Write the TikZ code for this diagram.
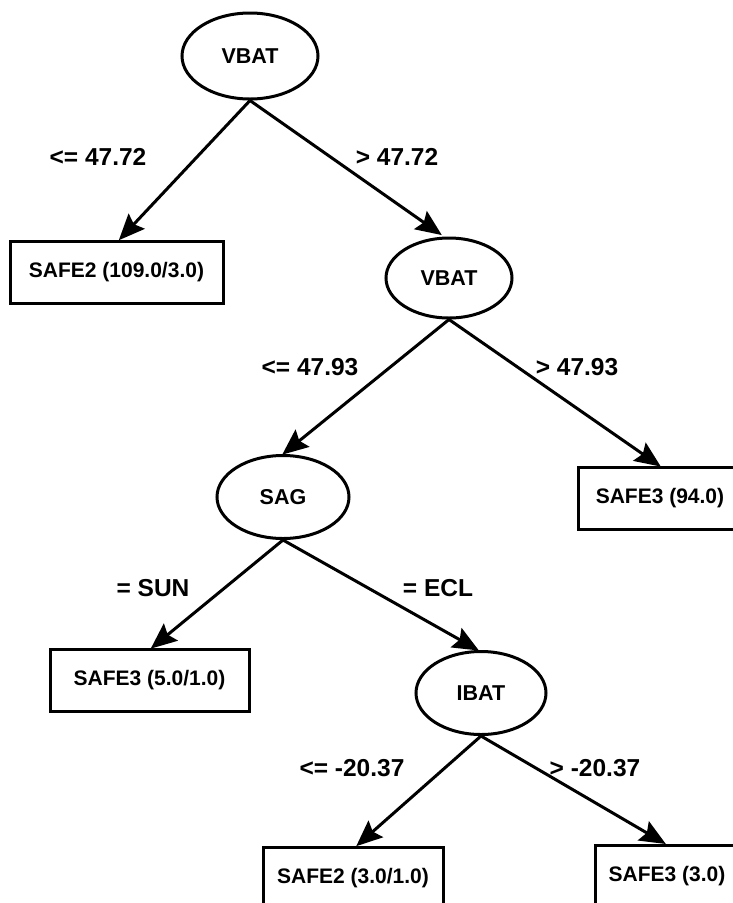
\documentclass[tikz,border=0pt]{standalone}
\usepackage{fontspec}
\setmainfont{Liberation Sans}
\usetikzlibrary{shapes.geometric,arrows.meta}
\tikzset{
  oval/.style={ellipse, draw, line width=3pt, inner sep=0pt, font=\fontsize{21.5}{24}\selectfont\bfseries},
  leaf/.style={rectangle, draw, line width=3pt, inner sep=0pt, minimum height=62pt, font=\fontsize{21}{24}\selectfont\bfseries},
  lbl/.style={inner sep=0pt, font=\fontsize{24.5}{28}\selectfont\bfseries},
  edge/.style={line width=3pt, -{Stealth[length=26pt,width=22pt,inset=4pt]}, shorten >=-1pt}
}
\begin{document}
\begin{tikzpicture}[x=1pt,y=-1pt]
\clip (0,0) rectangle (733,903);
\fill[white] (0,0) rectangle (733,903);
% nodes
\node[oval, minimum width=136pt, minimum height=86pt] (v1) at (250,56) {VBAT};
\node[leaf, minimum width=213pt] (s1) at (116.5,272) {SAFE2 (109.0/3.0)};
\node[oval, minimum width=126pt, minimum height=80pt] (v2) at (449,278) {VBAT};
\node[leaf, minimum width=164pt] (s2) at (660,498.5) {SAFE3 (94.0)};
\node[oval, minimum width=132pt, minimum height=83pt] (sag) at (283,497) {SAG};
\node[leaf, minimum width=199pt] (s3) at (149.5,680.5) {SAFE3 (5.0/1.0)};
\node[oval, minimum width=130pt, minimum height=83pt] (ibat) at (481,693) {IBAT};
\node[leaf, minimum width=180pt] (s4) at (353,878) {SAFE2 (3.0/1.0)};
\node[leaf, minimum width=144pt] (s5) at (667,876) {SAFE3 (3.0)};
% edges
\draw[edge] (v1.south) -- ([xshift=3pt]s1.north);
\draw[edge] (v1.south) -- ([shift={(-8pt,2pt)}]v2.north);
\draw[edge] (v2.south) -- (sag.north);
\draw[edge] (v2.south) -- (s2.north);
\draw[edge] (sag.south) -- ([xshift=2pt]s3.north);
\draw[edge] (sag.south) -- ([xshift=-3pt]ibat.north);
\draw[edge] (ibat.south) -- ([xshift=4pt]s4.north);
\draw[edge] (ibat.south) -- ([xshift=-2pt]s5.north);
% labels
\node[lbl] (l1) at (98,157) {<= 47.72};
\node[lbl] (l2) at (397,157) {> 47.72};
\node[lbl] (l3) at (310,367) {<= 47.93};
\node[lbl] (l4) at (577,367) {> 47.93};
\node[lbl] (l5) at (153,588) {= SUN};
\node[lbl] (l6) at (438,588) {= ECL};
\node[lbl] (l7) at (352,768) {<= -20.37};
\node[lbl] (l8) at (595,768) {> -20.37};
\end{tikzpicture}
\end{document}
